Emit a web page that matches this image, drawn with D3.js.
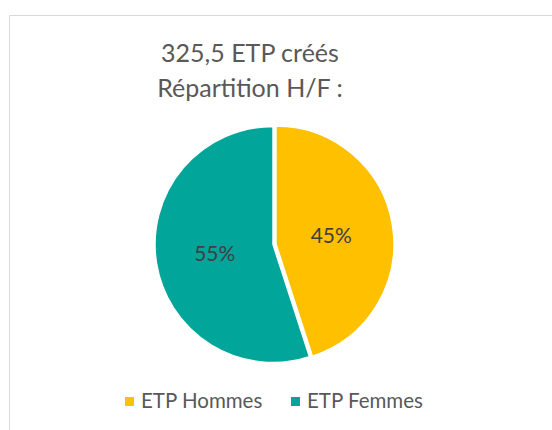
<!DOCTYPE html>
<html>
<head>
<meta charset="utf-8">
<script src="https://cdn.jsdelivr.net/npm/d3@7"></script>
<style>
  body { margin: 0; background: #fff; }
  svg { display: block; font-family: Lato, "Open Sans", sans-serif; }
</style>
</head>
<body>
<svg id="chart"></svg>
<script>
// pie data
const categories = ["ETP Hommes", "ETP Femmes"];
const shares = [45, 55];
const colors = ["#FFC000", "#02A59A"];
const titleLines = ["325,5 ETP créés", "Répartition H/F :"];

const width = 552, height = 430;

const svg = d3.select("#chart")
    .attr("width", width)
    .attr("height", height);

// chart frame (cropped at right and bottom)
svg.append("path")
    .attr("d", `M9.5,${height} V15.5 H${width}`)
    .style("fill", "none")
    .style("stroke", "#d9d9d9")
    .style("stroke-width", 1);

// title
svg.append("text")
    .attr("x", 250)
    .attr("y", 62)
    .style("text-anchor", "middle")
    .style("fill", "#595959")
    .style("font-size", "25px")
    .selectAll("tspan")
    .data(titleLines)
    .join("tspan")
    .attr("x", 250)
    .attr("dy", (d, i) => i === 0 ? 0 : 35)
    .text(d => d);

const cx = 273, cy = 244.5, radius = 118;

const pie = d3.pie().sort(null).value(d => d);
const arcs = pie(shares);
const arc = d3.arc().innerRadius(0).outerRadius(radius);
const explode = [3, 0];

const g = svg.append("g")
    .attr("transform", `translate(${cx},${cy})`);

g.selectAll("path.slice")
    .data(arcs)
    .join("path")
    .attr("class", "slice")
    .attr("d", arc)
    .attr("transform", (d, i) => {
        const a = (d.startAngle + d.endAngle) / 2;
        return `translate(${Math.sin(a) * explode[i]},${-Math.cos(a) * explode[i]})`;
    })
    .style("fill", (d, i) => colors[i])
    .style("stroke", "#fff")
    .style("stroke-width", 1.5);

// percentage labels
const labelArc = d3.arc().innerRadius(radius * 0.5).outerRadius(radius * 0.5);
g.selectAll("text.pct")
    .data(arcs)
    .join("text")
    .attr("class", "pct")
    .attr("transform", d => {
        const [x, y] = labelArc.centroid(d);
        return `translate(${x},${y + 7.5})`;
    })
    .style("text-anchor", "middle")
    .style("fill", "#404040")
    .style("font-size", "21px")
    .text(d => d.data + "%");

// legend
const legendX = [125, 291];
const legend = svg.append("g")
    .selectAll("g")
    .data(categories)
    .join("g")
    .attr("transform", (d, i) => `translate(${legendX[i]},397)`);

legend.append("rect")
    .attr("width", 9)
    .attr("height", 9)
    .style("fill", (d, i) => colors[i]);

legend.append("text")
    .attr("x", 16)
    .attr("y", 11)
    .style("fill", "#595959")
    .style("font-size", "20.5px")
    .text(d => d);
</script>
</body>
</html>
